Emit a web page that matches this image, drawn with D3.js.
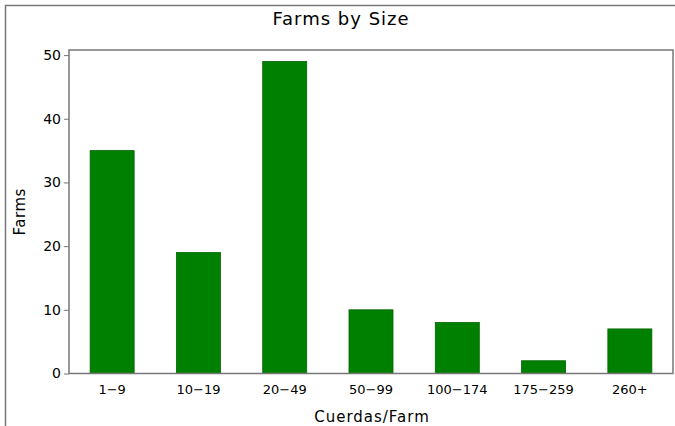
<!DOCTYPE html>
<html lang="en">
<head>
<meta charset="utf-8">
<script src="https://d3js.org/d3.v7.min.js"></script>
<style>
  body { margin: 0; background: #fff; }
  text { font-family: "DejaVu Sans", sans-serif; fill: #000; }
</style>
</head>
<body>
<div id="chart"></div>
<script>
  // chart values
  var categories = ["1\u22129", "10\u221219", "20\u221249", "50\u221299", "100\u2212174", "175\u2212259", "260+"];
  var farms = [35, 19, 49, 10, 8, 2, 7];
  var yTicks = [0, 10, 20, 30, 40, 50];

  var W = 675, H = 426;
  var plotL = 69, plotR = 673, plotT = 50, plotB = 373.5;

  var svg = d3.select('#chart').append('svg')
      .attr('width', W).attr('height', H);

  // outer frame (runs off the right/bottom edge)
  svg.append('rect')
      .attr('x', 5.5).attr('y', 5.5)
      .attr('width', W + 10).attr('height', H + 10)
      .attr('fill', 'none').attr('stroke', '#777').attr('stroke-width', 1.5);

  var x = d3.scaleBand().domain(categories).range([plotL, plotR])
      .paddingInner(0.49).paddingOuter(0.245);
  var y = d3.scaleLinear().domain([0, 50.8]).range([plotB, plotT]);

  svg.selectAll('rect.bar')
      .data(farms)
      .enter()
      .append('rect')
      .attr('class', 'bar')
      .attr('x', function(d, i) { return x(categories[i]) })
      .attr('y', function(d) { return y(d) })
      .attr('width', x.bandwidth())
      .attr('height', function(d) { return plotB - y(d) })
      .attr('fill', '#008000')
      .attr('stroke', '#006400')
      .attr('stroke-width', 0.8);

  // plot frame
  svg.append('rect')
      .attr('x', plotL).attr('y', plotT)
      .attr('width', plotR - plotL).attr('height', plotB - plotT)
      .attr('fill', 'none').attr('stroke', '#777').attr('stroke-width', 1.5);

  var yAxis = svg.append('g')
      .attr('transform', 'translate(' + plotL + ',0)')
      .call(d3.axisLeft(y).tickValues(yTicks).tickSize(5).tickPadding(3));
  yAxis.select('.domain').remove();
  yAxis.selectAll('line').attr('stroke', '#777');
  yAxis.selectAll('text').style('font-size', '14px').style('font-family', '"DejaVu Sans", sans-serif');

  var xAxis = svg.append('g')
      .attr('transform', 'translate(0,' + plotB + ')')
      .call(d3.axisBottom(x).tickSize(0).tickPadding(11));
  xAxis.select('.domain').remove();
  xAxis.selectAll('text').style('font-size', '13px').style('font-family', '"DejaVu Sans", sans-serif');

  svg.append('text')
      .attr('x', 341).attr('y', 25)
      .attr('text-anchor', 'middle')
      .style('font-size', '18px')
      .style('letter-spacing', '1px')
      .text('Farms by Size');

  svg.append('text')
      .attr('x', 372).attr('y', 422)
      .attr('text-anchor', 'middle')
      .style('font-size', '15px')
      .style('letter-spacing', '1px')
      .text('Cuerdas/Farm');

  svg.append('text')
      .attr('transform', 'translate(25,' + (plotT + plotB) / 2 + ') rotate(-90)')
      .attr('text-anchor', 'middle')
      .style('font-size', '15px')
      .style('letter-spacing', '0.5px')
      .text('Farms');
</script>
</body>
</html>
